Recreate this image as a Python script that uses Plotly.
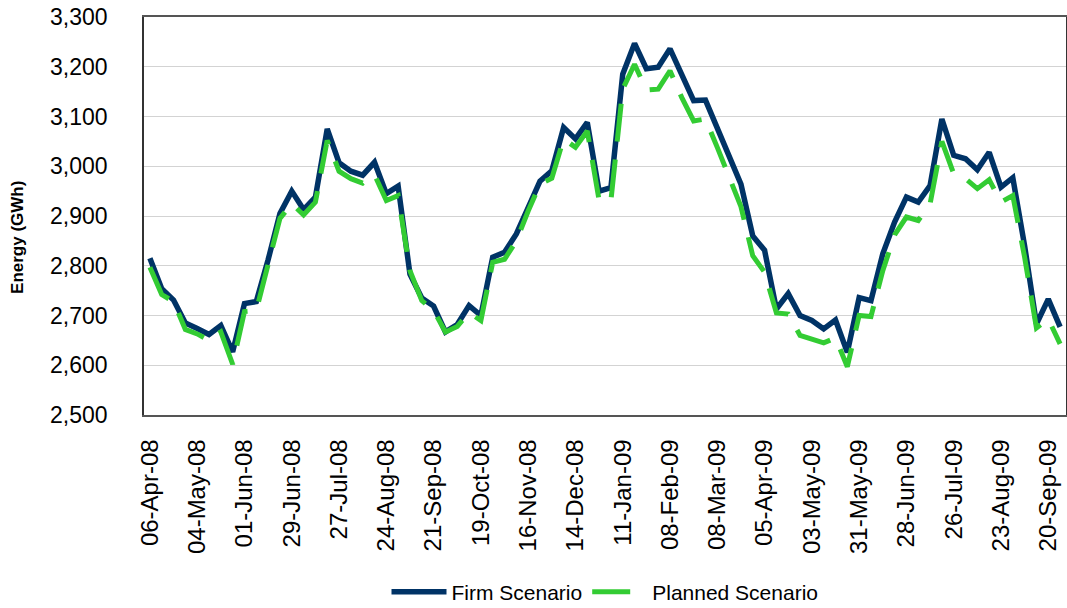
import pandas as pd
import plotly.graph_objects as go

# Weekly energy, week-commencing dates
week_start = "2008-04-06"
n_weeks = 78
weeks = pd.date_range(week_start, periods=n_weeks, freq="7D")

firm_gwh = [
    2815, 2754, 2731, 2685, 2674, 2662, 2680, 2627, 2724, 2728,
    2812, 2905, 2950, 2913, 2938, 3075, 3007, 2990, 2982, 3008,
    2945, 2960, 2783, 2735, 2719, 2667, 2682, 2720, 2700, 2817,
    2827, 2864, 2917, 2970, 2991, 3078, 3055, 3088, 2950, 2957,
    3185, 3247, 3196, 3199, 3236, 3182, 3132, 3133, 3078, 3018,
    2964, 2860, 2831, 2713, 2744, 2700, 2690, 2673, 2691, 2626,
    2736, 2730, 2824, 2888, 2938, 2928, 2961, 3095, 3022, 3015,
    2993, 3028, 2958, 2977, 2840, 2683, 2733, 2677,
]

planned_gwh = [
    2797, 2742, 2728, 2672, 2663, 2650, 2667, 2602, 2708, 2710,
    2803, 2895, 2925, 2902, 2928, 3052, 2990, 2975, 2966, 2983,
    2931, 2941, 2790, 2730, 2710, 2667, 2678, 2706, 2690, 2807,
    2813, 2850, 2910, 2964, 2976, 3055, 3038, 3071, 2932, 2931,
    3155, 3205, 3153, 3155, 3192, 3138, 3091, 3095, 3038, 2975,
    2919, 2820, 2787, 2705, 2703, 2660, 2652, 2645, 2655, 2597,
    2700, 2698, 2790, 2862, 2898, 2891, 2924, 3050, 2985, 2975,
    2955, 2973, 2928, 2941, 2817, 2675, 2693, 2643,
]

series_names = ["Firm Scenario", "Planned Scenario"]
y_title = "Energy (GWh)"
y_range = [2500, 3300]

FONT = "Liberation Sans, Arial, sans-serif"

fig = go.Figure()
fig.add_trace(go.Scatter(
    x=weeks, y=firm_gwh, name=series_names[0], mode="lines",
    line=dict(color="#003366", width=5.5),
))
fig.add_trace(go.Scatter(
    x=weeks, y=planned_gwh, name=series_names[1], mode="lines",
    line=dict(color="#33CC33", width=5, dash="38px,18px"),
))

half_week = pd.Timedelta(days=3.5)
fig.update_layout(
    width=1067, height=608,
    margin=dict(l=144, r=1, t=17, b=193, autoexpand=False),
    paper_bgcolor="white", plot_bgcolor="white",
    font=dict(family=FONT, color="#000000"),
    showlegend=True,
    legend=dict(
        orientation="h", xref="paper", x=0.5, xanchor="center",
        yref="container", y=0.026, yanchor="middle",
        font=dict(family=FONT, size=21, color="#000000"),
        itemwidth=55,
    ),
    xaxis=dict(
        type="date",
        range=[weeks[0] - half_week, weeks[-1] + half_week],
        tick0=week_start, dtick=28 * 86400000,
        tickformat="%d-%b-%y", tickangle=-90,
        tickfont=dict(family=FONT, size=24),
        showgrid=False, ticks="",
        showline=True, linecolor="#555555", linewidth=1.5, mirror=True,
        ticklabelstandoff=13,
    ),
    yaxis=dict(
        range=y_range, dtick=100, tickformat=",",
        tickfont=dict(family=FONT, size=23),
        showgrid=True, gridcolor="#d3d3d3", gridwidth=1,
        ticks="", zeroline=False,
        showline=True, linecolor="#333333", linewidth=1.5, mirror=True,
        ticklabelstandoff=30,
    ),
    annotations=[dict(
        text="<b>" + y_title + "</b>", textangle=-90,
        xref="paper", yref="paper", x=-0.1366, y=0.445,
        xanchor="center", yanchor="middle", showarrow=False,
        font=dict(family=FONT, size=17, color="#000000"),
    )],
)

fig.write_html("out.html")
